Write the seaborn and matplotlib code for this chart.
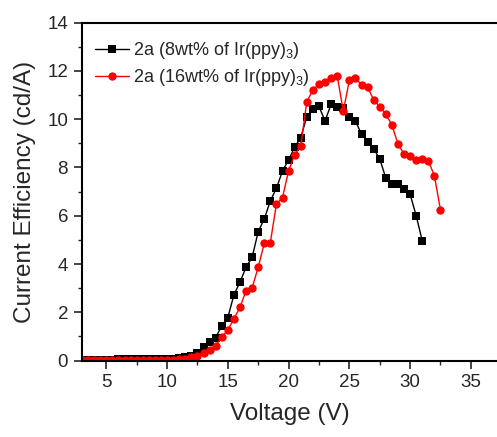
import numpy as np
import pandas as pd
import seaborn as sns
import matplotlib.pyplot as plt
from matplotlib.ticker import MultipleLocator

# voltage steps (V)
volt_8 = [3.0, 3.5, 4.0, 4.5, 5.0, 5.5, 6.0, 6.5, 7.0, 7.5, 8.0, 8.5, 9.0, 9.5,
          10.0, 10.5, 11.0, 11.5, 12.0, 12.5, 13.0, 13.5, 14.0, 14.5, 15.0, 15.5,
          16.0, 16.5, 17.0, 17.5, 18.0, 18.5, 19.0, 19.5, 20.0, 20.5, 21.0, 21.5,
          22.0, 22.5, 23.0, 23.5, 24.0, 24.5, 25.0, 25.5, 26.0, 26.5, 27.0, 27.5,
          28.0, 28.5, 29.0, 29.5, 30.0, 30.5, 31.0]
eff_8 = [0.03, 0.03, 0.03, 0.04, 0.04, 0.04, 0.05, 0.05, 0.05, 0.05, 0.05, 0.06, 0.06, 0.06,
         0.07, 0.08, 0.10, 0.13, 0.20, 0.31, 0.54, 0.75, 0.95, 1.44, 1.78, 2.72,
         3.25, 3.87, 4.28, 5.34, 5.87, 6.62, 7.14, 7.86, 8.31, 8.84, 9.24, 10.11,
         10.43, 10.53, 9.93, 10.62, 10.52, 10.45, 10.11, 9.93, 9.38, 9.07, 8.77, 8.36,
         7.56, 7.32, 7.31, 7.10, 6.89, 6.00, 4.96]

volt_16 = [3.0, 3.5, 4.0, 4.5, 5.0, 5.5, 6.0, 6.5, 7.0, 7.5, 8.0, 8.5, 9.0, 9.5,
           10.0, 10.5, 11.0, 11.5, 12.0, 12.5, 13.0, 13.5, 14.0, 14.5, 15.0, 15.5,
           16.0, 16.5, 17.0, 17.5, 18.0, 18.5, 19.0, 19.5, 20.0, 20.5, 21.0, 21.5,
           22.0, 22.5, 23.0, 23.5, 24.0, 24.5, 25.0, 25.5, 26.0, 26.5, 27.0, 27.5,
           28.0, 28.5, 29.0, 29.5, 30.0, 30.5, 31.0, 31.5, 32.0, 32.5]
eff_16 = [0.02, 0.02, 0.02, 0.02, 0.02, 0.03, 0.03, 0.03, 0.03, 0.03, 0.03, 0.03, 0.03, 0.04,
          0.04, 0.04, 0.05, 0.08, 0.13, 0.20, 0.30, 0.44, 0.62, 0.97, 1.27, 1.73,
          2.20, 2.90, 3.01, 3.87, 4.86, 4.89, 6.49, 6.75, 7.87, 8.53, 8.89, 10.73,
          11.21, 11.46, 11.54, 11.72, 11.81, 10.33, 11.62, 11.72, 11.42, 11.32, 10.81, 10.52,
          10.22, 9.76, 8.98, 8.56, 8.49, 8.31, 8.34, 8.28, 7.65, 6.24]

labels = ["2a (8wt% of Ir(ppy)$_3$)", "2a (16wt% of Ir(ppy)$_3$)"]

sns.set_style("ticks")
plt.rcParams['font.family'] = ['Liberation Sans', 'DejaVu Sans']
plt.rcParams['mathtext.default'] = 'regular'

df8 = pd.DataFrame({"Voltage": volt_8, "Eff": eff_8})
df16 = pd.DataFrame({"Voltage": volt_16, "Eff": eff_16})

fig = plt.figure(figsize=(4.97, 4.37), dpi=100)
ax = fig.add_axes([0.165, 0.175, 0.835, 0.773])

sns.lineplot(data=df8, x="Voltage", y="Eff", ax=ax, color="black", lw=1,
             marker="s", markersize=5.2, markeredgewidth=0, label=labels[0])
sns.lineplot(data=df16, x="Voltage", y="Eff", ax=ax, color="#ff0000", lw=1,
             marker="o", markersize=6, markeredgewidth=0, label=labels[1])

ax.set_xlim(3, 37.15)
ax.set_ylim(0, 14)
ax.xaxis.set_major_locator(MultipleLocator(5))
ax.xaxis.set_minor_locator(MultipleLocator(2.5))
ax.yaxis.set_major_locator(MultipleLocator(2))
ax.yaxis.set_minor_locator(MultipleLocator(1))
ax.tick_params(which="major", direction="out", length=6, width=1.2, labelsize=13.5, pad=4)
ax.tick_params(which="minor", direction="out", length=3, width=1.0)
ax.tick_params(top=False, right=False, which="both")

for s in ["left", "bottom", "top"]:
    ax.spines[s].set_linewidth(1.5)
    ax.spines[s].set_color("black")
ax.spines["right"].set_visible(False)

ax.set_xlabel("Voltage (V)", fontsize=17.5, labelpad=8)
ax.set_ylabel("Current Efficiency (cd/A)", fontsize=17.5, labelpad=8)

ax.legend(loc="upper left", bbox_to_anchor=(0.0, 0.985), frameon=False, fontsize=13,
          handlelength=1.9, handletextpad=0.25, labelspacing=0.3, borderaxespad=0.3)

plt.savefig("out.png", dpi=100)
